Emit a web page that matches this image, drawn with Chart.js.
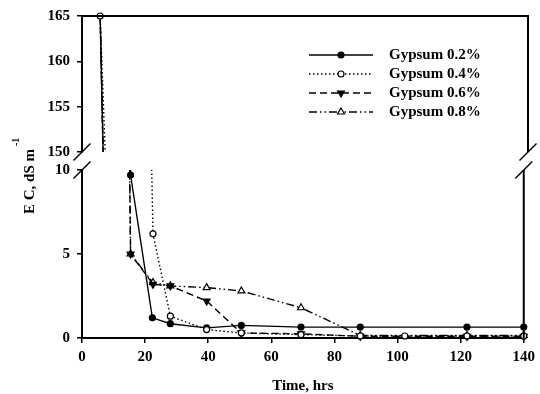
<!DOCTYPE html>
<html>
<head>
<meta charset="utf-8">
<script src="https://cdn.jsdelivr.net/npm/chart.js@4.4.1/dist/chart.umd.min.js"></script>
<style>
  html, body { margin: 0; padding: 0; background: #fff; }
  #wrap { position: relative; width: 540px; height: 394px; background: #fff; }
  #wrap canvas { position: absolute; left: 0; top: 0; }
</style>
</head>
<body>
<div id="wrap">
  <canvas id="low" width="540" height="394"></canvas>
  <canvas id="high" width="540" height="170"></canvas>
</div>
<script>
// EC over time, broken y axis (150-165 on top, 0-10 below)
const seriesNames = ['Gypsum 0.2%', 'Gypsum 0.4%', 'Gypsum 0.6%', 'Gypsum 0.8%'];
const time02 = [5.7, 15.4, 22.3, 28, 39.5, 50.5, 69.4, 88.2, 122, 140];
const ec02   = [165, 9.7, 1.2, 0.85, 0.6, 0.75, 0.65, 0.65, 0.65, 0.65];
const time04 = [5.7, 22.5, 28, 39.5, 50.5, 69.4, 88.2, 102.3, 122, 140];
const ec04   = [165, 6.2, 1.3, 0.5, 0.3, 0.2, 0.12, 0.12, 0.12, 0.12];
const time06 = [5.7, 15.4, 22.5, 28, 39.5, 50.5, 69.4, 88.2, 122, 140];
const ec06   = [165, 5.0, 3.2, 3.1, 2.2, 0.3, 0.25, 0.1, 0.1, 0.1];
const time08 = [5.7, 15.4, 22.5, 28, 39.5, 50.5, 69.4, 88.2, 122, 140];
const ec08   = [165, 5.0, 3.3, 3.1, 3.0, 2.8, 1.8, 0.15, 0.15, 0.15];
const timeRange = [0, 140];
const lowRange = [0, 10];
const highRange = [150, 165];

const serif = '"Liberation Serif", "Times New Roman", serif';
const tickFont = { family: serif, size: 15, weight: 'bold' };

// marker/line look per series
const looks = [
  { dash: [], style: 'circle', rot: 0, fill: '#000', r: 3, first: false },
  { dash: [1.5, 2.5], style: 'circle', rot: 0, fill: '#fff', r: 3, first: true },
  { dash: [7, 4], style: 'triangle', rot: 180, fill: '#000', r: 4, first: false },
  { dash: [8, 3, 1.5, 3, 1.5, 3], style: 'triangle', rot: 0, fill: '#fff', r: 4, first: false }
];

function makeDatasets(clip) {
  return [[time02, ec02], [time04, ec04], [time06, ec06], [time08, ec08]].map(([t, v], i) => ({
    label: seriesNames[i],
    data: t.map((x, k) => ({ x: x, y: v[k] })),
    borderColor: '#000',
    borderWidth: 1.4,
    borderDash: looks[i].dash,
    pointStyle: looks[i].style,
    pointRotation: looks[i].rot,
    pointBackgroundColor: looks[i].fill,
    pointBorderColor: '#000',
    pointBorderWidth: 1.2,
    pointRadius: ctx => (ctx.dataIndex === 0 && !looks[i].first) ? 0 : looks[i].r,
    pointHoverRadius: 0,
    tension: 0,
    clip: clip,
    order: i === 1 ? -1 : i
  }));
}

function yAxis(range) {
  return {
    min: range[0], max: range[1],
    ticks: { stepSize: 5, color: '#000', font: tickFont, padding: 7 },
    grid: { drawOnChartArea: false, tickLength: 5, color: '#000', lineWidth: 1.5 },
    border: { color: '#000', width: 2 },
    afterFit: s => { s.width = 82; }
  };
}

function slash(ctx, x, y) {
  ctx.beginPath();
  ctx.moveTo(x - 8.5, y + 8.5);
  ctx.lineTo(x + 8.5, y - 8.5);
  ctx.stroke();
}

const frameHigh = {
  id: 'frameHigh',
  afterDraw(chart) {
    const { ctx, chartArea: a } = chart;
    ctx.save();
    ctx.strokeStyle = '#000';
    ctx.lineWidth = 2;
    ctx.beginPath();
    ctx.moveTo(a.left - 1, a.top);
    ctx.lineTo(a.right, a.top);
    ctx.lineTo(a.right, a.bottom);
    ctx.stroke();
    ctx.lineWidth = 1.5;
    slash(ctx, a.left, a.bottom);
    slash(ctx, a.right, a.bottom);

    // legend: line sample + marker + name
    const lx = 309, lw = 64, tx = 389, top = 55, step = 19;
    chart.data.datasets.forEach((ds, i) => {
      const y = top + i * step;
      ctx.lineWidth = 1.4;
      ctx.setLineDash(looks[i].dash);
      ctx.beginPath();
      ctx.moveTo(lx, y);
      ctx.lineTo(lx + lw, y);
      ctx.stroke();
      ctx.setLineDash([]);
      ctx.fillStyle = looks[i].fill;
      ctx.lineWidth = 1.2;
      Chart.helpers.drawPoint(ctx, { pointStyle: looks[i].style, rotation: looks[i].rot, radius: looks[i].r, borderWidth: 1.2 }, lx + lw / 2, y);
      ctx.fillStyle = '#000';
      ctx.font = 'bold 15px ' + serif;
      ctx.textBaseline = 'middle';
      ctx.textAlign = 'left';
      ctx.fillText(ds.label, tx, y);
    });
    ctx.restore();
  }
};

const frameLow = {
  id: 'frameLow',
  afterDraw(chart) {
    const { ctx, chartArea: a } = chart;
    ctx.save();
    ctx.strokeStyle = '#000';
    ctx.lineWidth = 2;
    ctx.beginPath();
    ctx.moveTo(a.right, a.top);
    ctx.lineTo(a.right, a.bottom);
    ctx.stroke();
    ctx.lineWidth = 1.5;
    slash(ctx, a.left, a.top);
    slash(ctx, a.right, a.top);

    // y title spans both panels
    ctx.fillStyle = '#000';
    ctx.translate(34, 214);
    ctx.rotate(-Math.PI / 2);
    ctx.textAlign = 'left';
    ctx.textBaseline = 'alphabetic';
    ctx.font = 'bold 15px ' + serif;
    const main = 'E C, dS m';
    ctx.fillText(main, 0, 0);
    const w = ctx.measureText(main).width;
    ctx.font = 'bold 10px ' + serif;
    ctx.fillText('-1', w + 3, -15);
    ctx.restore();
  }
};

Chart.defaults.font.family = serif;
Chart.defaults.color = '#000';

new Chart(document.getElementById('low'), {
  type: 'line',
  data: { datasets: makeDatasets({ left: 6, right: 6, top: 0, bottom: 6 }) },
  options: {
    responsive: false, animation: false, devicePixelRatio: 1,
    layout: { padding: { left: 0, right: 12, top: 170, bottom: 0 } },
    plugins: { legend: { display: false }, tooltip: { enabled: false } },
    scales: {
      x: {
        type: 'linear', min: timeRange[0], max: timeRange[1],
        ticks: { stepSize: 20, color: '#000', font: tickFont, padding: 5, maxRotation: 0 },
        grid: { drawOnChartArea: false, tickLength: 5, color: '#000', lineWidth: 1.5 },
        border: { color: '#000', width: 2 },
        title: { display: true, text: 'Time, hrs', color: '#000', font: { family: serif, size: 15, weight: 'bold', lineHeight: 1 }, padding: 0 },
        afterFit: s => { s.height = 56; }
      },
      y: yAxis(lowRange)
    }
  },
  plugins: [frameLow]
});

new Chart(document.getElementById('high'), {
  type: 'line',
  data: { datasets: makeDatasets({ left: 6, right: 6, top: 6, bottom: 0 }) },
  options: {
    responsive: false, animation: false, devicePixelRatio: 1,
    layout: { padding: { left: 0, right: 12, top: 15, bottom: 18 } },
    plugins: { legend: { display: false }, tooltip: { enabled: false } },
    scales: {
      x: { type: 'linear', min: timeRange[0], max: timeRange[1], display: false },
      y: yAxis(highRange)
    }
  },
  plugins: [frameHigh]
});
</script>
</body>
</html>
